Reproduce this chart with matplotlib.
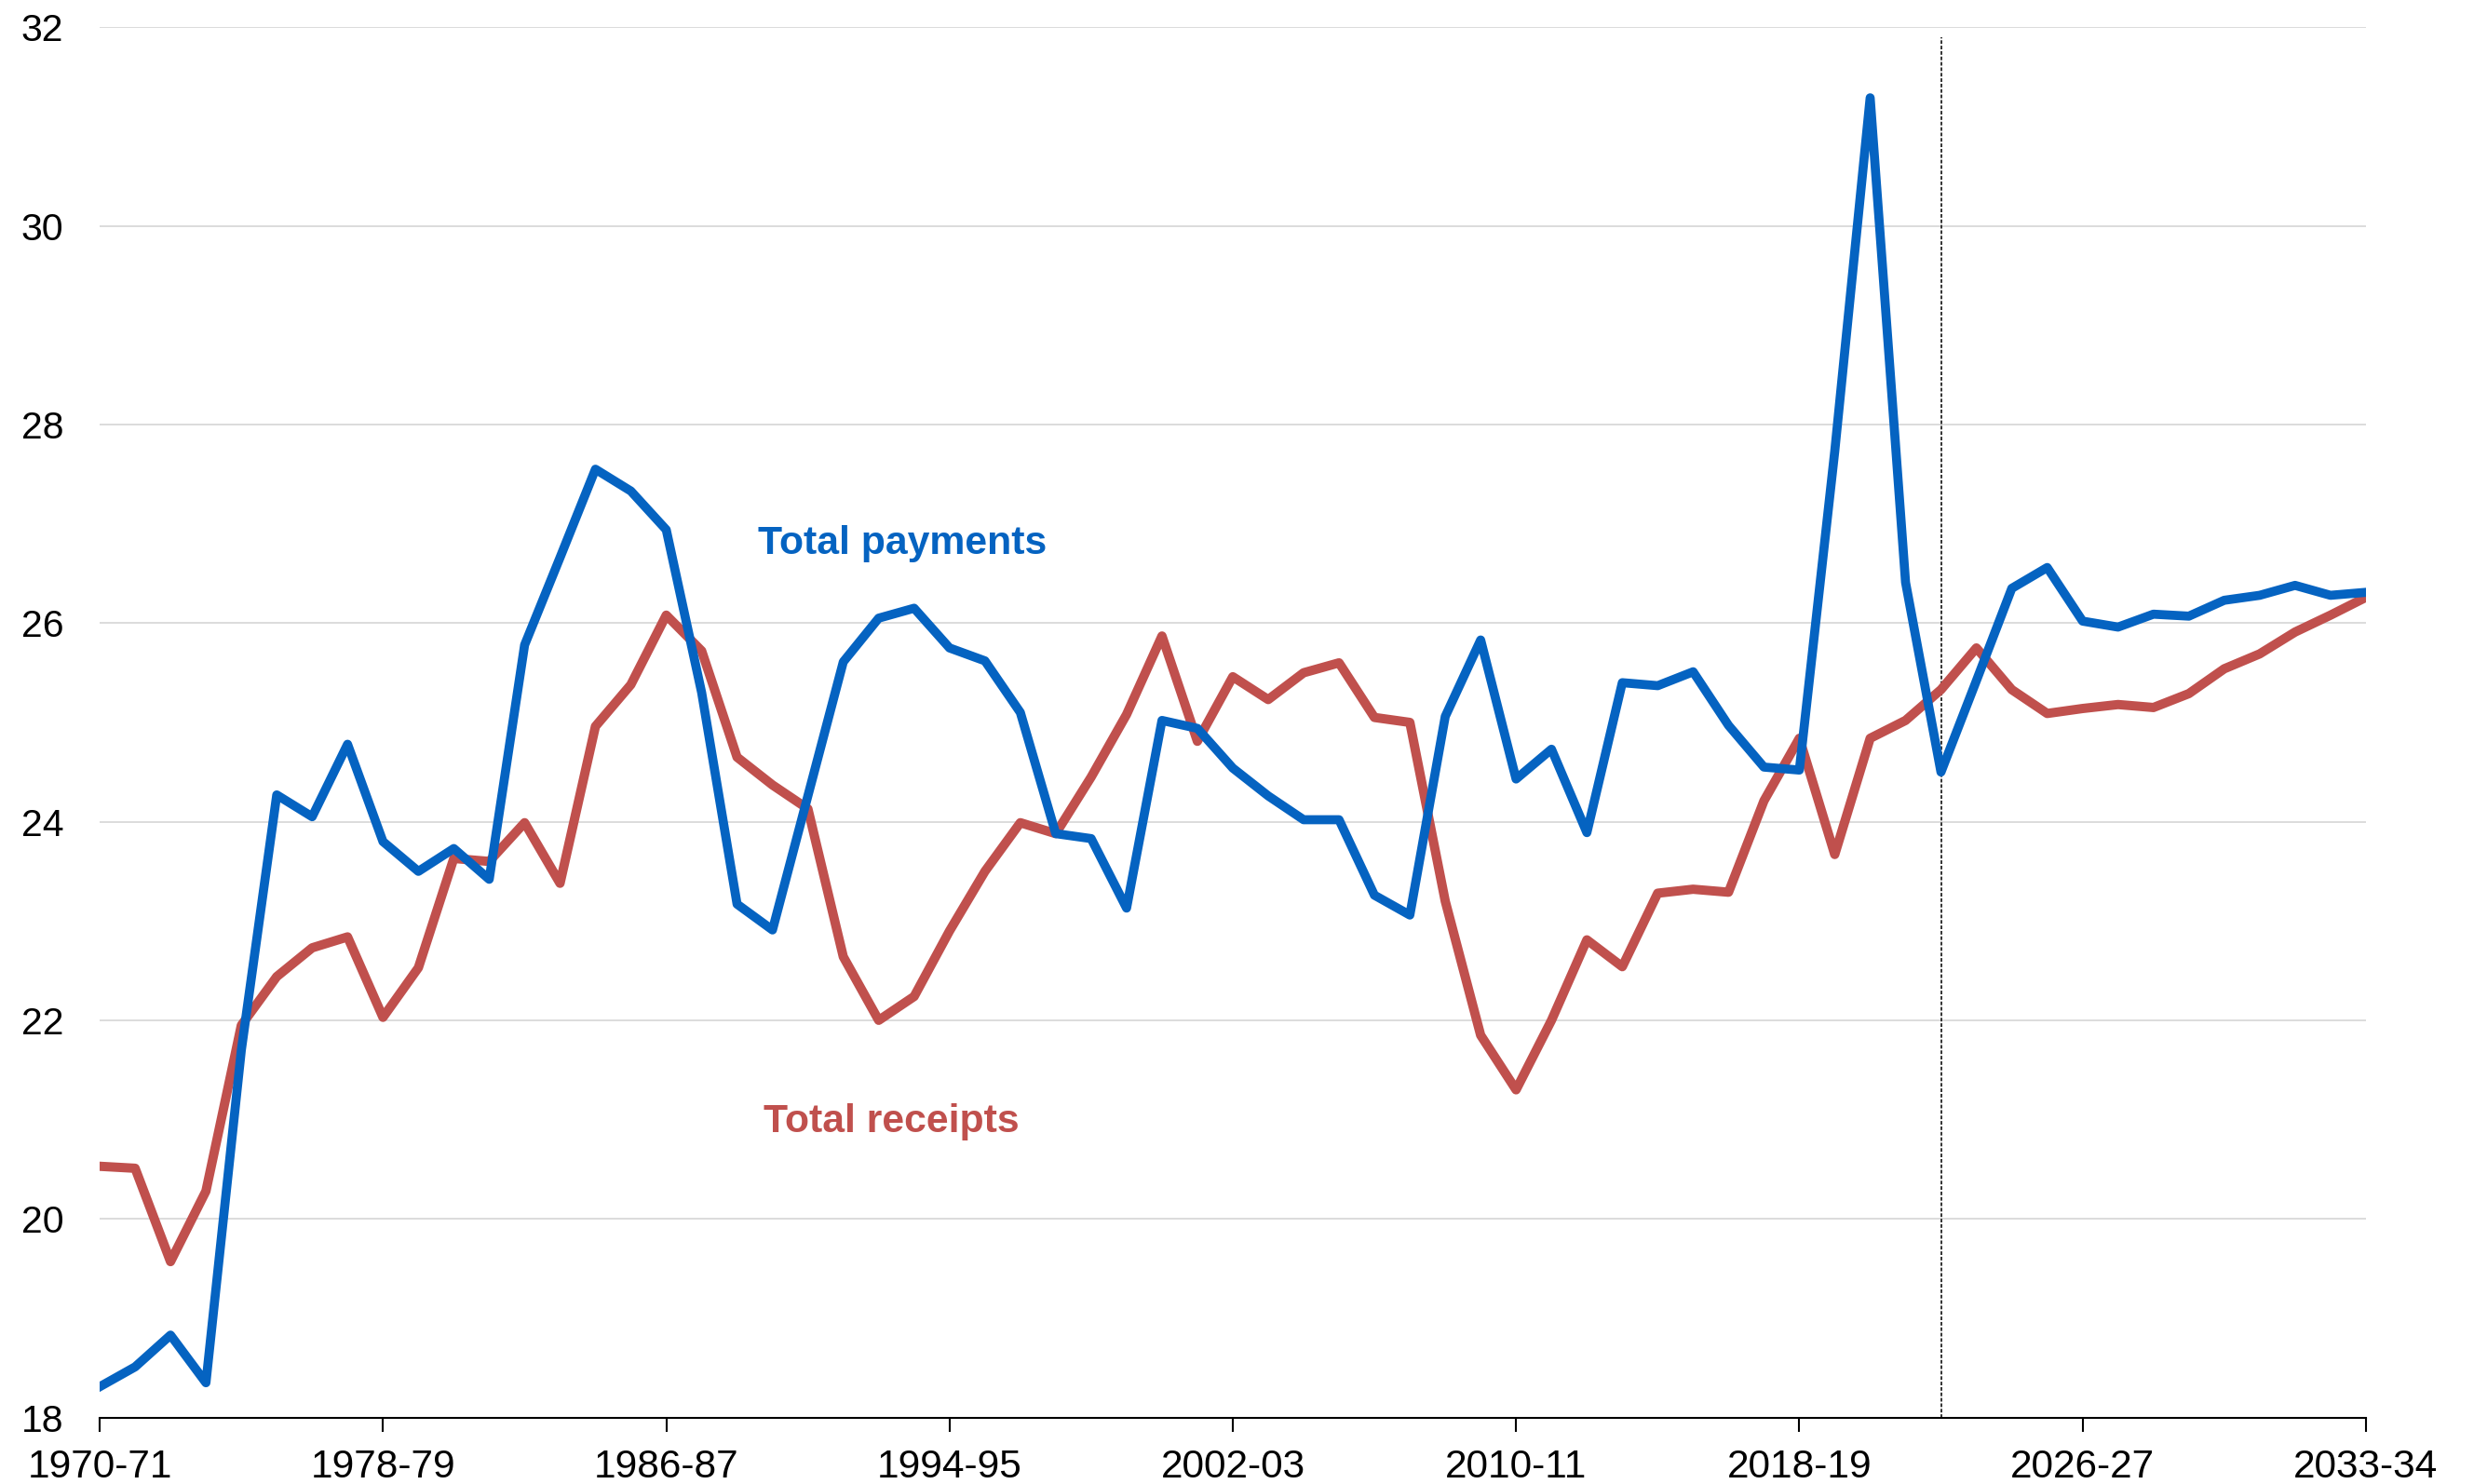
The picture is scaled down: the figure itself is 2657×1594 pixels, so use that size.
import matplotlib
matplotlib.use("Agg")
import matplotlib.pyplot as plt

plt.rcParams['font.family'] = ['Liberation Sans', 'DejaVu Sans']

# financial years on the category axis (one point per year)
years = [f"{y}-{str(y + 1)[-2:]}" for y in range(1970, 2035)]

# per cent of GDP
payments = [18.31, 18.51, 18.83, 18.35, 21.7, 24.27, 24.05, 24.78, 23.8, 23.5,
            23.73, 23.42, 25.78, 26.66, 27.55, 27.33, 26.94, 25.3, 23.17, 22.91,
            24.26, 25.61, 26.05, 26.15, 25.75, 25.62, 25.1, 23.88, 23.83, 23.13,
            25.02, 24.94, 24.54, 24.26, 24.02, 24.02, 23.26, 23.06, 25.06, 25.83,
            24.43, 24.73, 23.89, 25.4, 25.37, 25.51, 24.97, 24.55, 24.52, 27.73,
            31.29, 26.41, 24.5, 25.42, 26.35, 26.56, 26.02, 25.96, 26.09, 26.07,
            26.23, 26.28, 26.38, 26.28, 26.31]
receipts = [20.53, 20.51, 19.57, 20.28, 21.95, 22.44, 22.73, 22.84, 22.03, 22.53,
            23.63, 23.6, 23.99, 23.38, 24.96, 25.38, 26.08, 25.72, 24.65, 24.37,
            24.13, 22.64, 22.0, 22.24, 22.9, 23.5, 23.99, 23.88, 24.45, 25.08,
            25.87, 24.81, 25.46, 25.23, 25.5, 25.6, 25.05, 25.0, 23.2, 21.85,
            21.3, 22.0, 22.81, 22.54, 23.28, 23.32, 23.29, 24.21, 24.84, 23.67,
            24.84, 25.02, 25.33, 25.75, 25.33, 25.09, 25.14, 25.18, 25.15, 25.29,
            25.54, 25.69, 25.91, 26.08, 26.26]

tick_pos = [0, 8, 16, 24, 32, 40, 48, 56, 64]
tick_labels = ['1970-71', '1978-79', '1986-87', '1994-95', '2002-03',
               '2010-11', '2018-19', '2026-27', '2033-34']
projection_start = 52  # 2022-23

blue = '#0563C1'
red = '#C0504D'

fig = plt.figure(figsize=(26.57, 15.94), dpi=100)
ax = fig.add_axes([0.0403, 0.0448, 0.9160, 0.9368])

x = list(range(len(years)))
ax.plot(x, receipts, color=red, lw=7.2, solid_joinstyle='round', zorder=3)
ax.plot(x, payments, color=blue, lw=7.0, solid_joinstyle='round', zorder=3)

ax.axvline(projection_start, ymin=0, ymax=0.993, color='#333333', lw=1.4,
           linestyle=(0, (2, 1)), zorder=2)

ax.set_xlim(0, 64)
ax.set_ylim(18, 32)
ax.set_yticks(range(18, 33, 2))
ax.set_xticks(tick_pos)
ax.set_xticklabels(tick_labels)
ax.grid(axis='y', color='#D9D9D9', lw=1.3, zorder=0)
ax.set_axisbelow(True)

for side in ['top', 'right', 'left']:
    ax.spines[side].set_visible(False)
ax.spines['bottom'].set_linewidth(1.5)
ax.spines['bottom'].set_zorder(4)

ax.tick_params(axis='y', length=0, pad=28, labelsize=29.5)
ax.tick_params(axis='x', length=11, width=1.5, pad=13, labelsize=30.5)

ax.text(18.6, 26.70, 'Total payments', color=blue, fontsize=30.8,
        fontweight='bold', va='baseline', ha='left')
ax.text(18.76, 20.87, 'Total receipts', color=red, fontsize=30.8,
        fontweight='bold', va='baseline', ha='left')

fig.savefig('out.png', dpi=100)
